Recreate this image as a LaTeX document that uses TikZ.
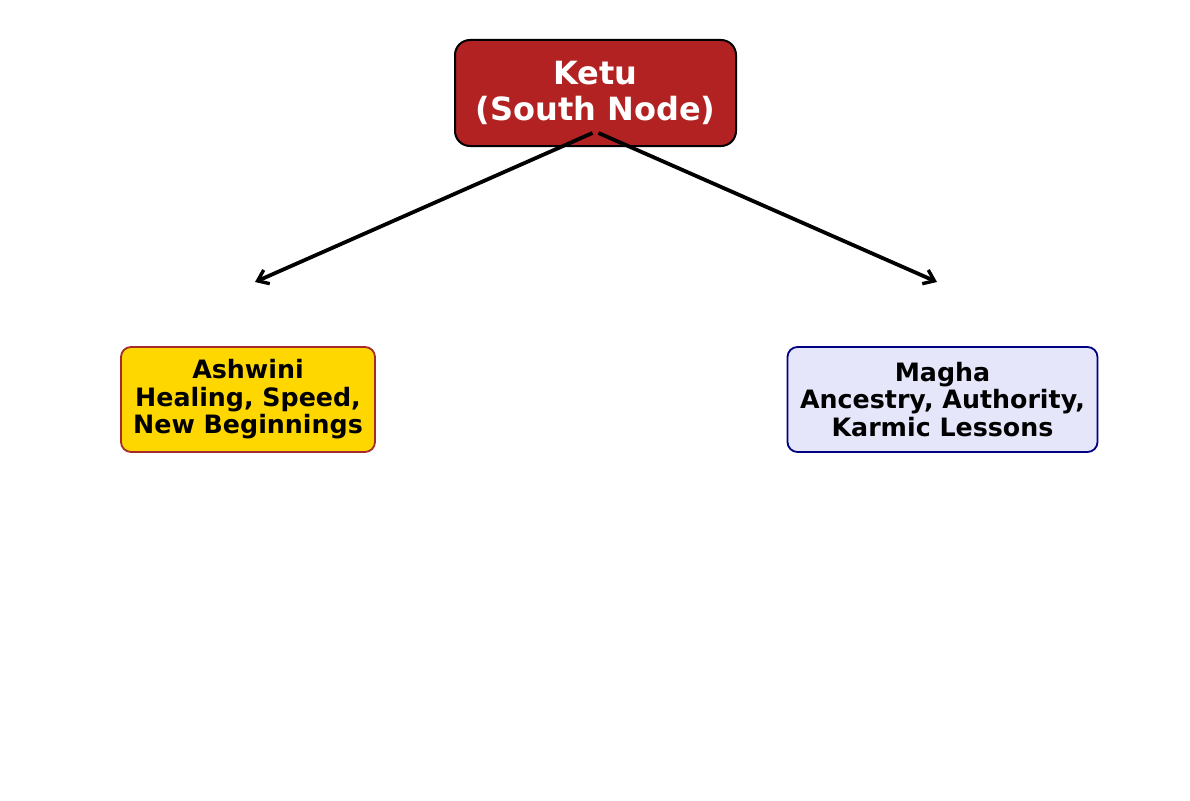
\documentclass[tikz,border=0pt]{standalone}
\usepackage{fontspec}
\setmainfont{DejaVu Sans}
\usetikzlibrary{arrows.meta}
\definecolor{ketured}{HTML}{B22222}
\definecolor{ashgold}{HTML}{FFD700}
\definecolor{ashedge}{HTML}{A52A2A}
\definecolor{maglav}{HTML}{E6E6FA}
\definecolor{magedge}{HTML}{000080}
\tikzset{
  nakbox/.style={rounded corners=10pt, line width=1.8pt, align=center, inner sep=0pt,
    minimum height=105pt, font=\fontsize{25.3}{27.5}\selectfont\bfseries},
  karrow/.style={line width=3.8pt, -{Straight Barb[length=10pt,width=15pt,line width=3.4pt]}}
}
\begin{document}
\begin{tikzpicture}[x=1pt,y=-1pt]
        \useasboundingbox (0,0) rectangle (1190,800);
        \node[draw=black, fill=ketured, text=white, rounded corners=15pt, line width=2pt,
              align=center, inner sep=0pt, minimum width=281pt, minimum height=106pt,
              font=\fontsize{32}{36.5}\selectfont\bfseries] (ketu) at (595.5,93) {Ketu\\(South Node)};
        \node[nakbox, draw=ashedge, fill=ashgold, minimum width=254pt] (ashwini) at (248,399.5)
              {Ashwini\\Healing, Speed,\\New Beginnings};
        \node[nakbox, draw=magedge, fill=maglav, minimum width=310pt] (magha) at (942.5,399.5)
              {Magha\\Ancestry, Authority,\\Karmic Lessons};

        \coordinate (kL) at ([xshift=-3pt,yshift=-40pt]ketu.center);
        \coordinate (kR) at ([xshift=3pt,yshift=-40pt]ketu.center);
        \coordinate (aT) at (255,282);% arrow ends above the boxes
        \coordinate (mT) at (937,282);
        \draw[karrow] (kL) -- (aT);
        \draw[karrow] (kR) -- (mT);
    \end{tikzpicture}
\end{document}
